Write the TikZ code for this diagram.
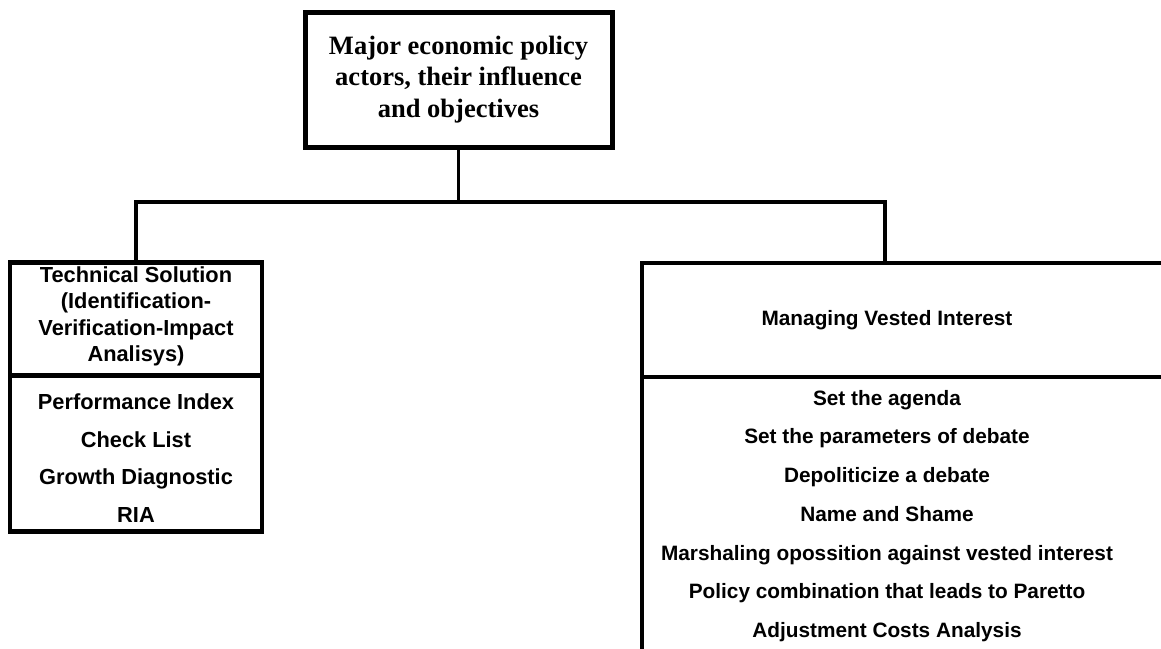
\documentclass[tikz,border=0pt]{standalone}
\usepackage{fontspec}
\setmainfont{Liberation Serif}
\setsansfont{Liberation Sans}
\usepackage{tikz}
\usetikzlibrary{positioning}

\begin{document}
\begin{tikzpicture}
[x=1pt,y=-1pt,
   box/.style={draw,line width=4.5pt,rectangle,inner sep=0pt,outer sep=0pt,align=center},
   conn/.style={line width=4.5pt},
   lbl/.style={font=\sffamily\bfseries\fontsize{21.8}{26.5}\selectfont,align=center}]
\useasboundingbox (0,0) rectangle (1161,648);
\clip (0,0) rectangle (1161,648);
% root
\node[box,line width=5pt,minimum width=307,minimum height=135,
      font=\rmfamily\bfseries\fontsize{26.5}{31.8}\selectfont] (actors) at (458.5,79.5)
      {Major economic policy\\actors, their influence\\and objectives};
% left branch
\node[box,minimum width=252,minimum height=113] (tech) at (136,319) {};
\node[lbl] (techtxt) at (136,316.5)
      {Technical Solution\\(Identification-\\Verification-Impact\\Analisys)};
\node[box,below=0pt of tech,minimum width=252,minimum height=156] (techlist) {};
\node[lbl,font=\sffamily\bfseries\fontsize{21.8}{37.7}\selectfont] (techitems) at (136,458)
      {Performance Index\\Check List\\Growth Diagnostic\\RIA};
% right branch
\node[box,minimum width=538,minimum height=114] (vested) at (911,320) {};
\node[lbl,font=\sffamily\bfseries\fontsize{20.8}{26.5}\selectfont] (vestedtxt) at (887,320)
      {Managing Vested Interest};
\node[box,below=0pt of vested,minimum width=538,minimum height=300] (vestedbox) {};
\node[lbl,font=\sffamily\bfseries\fontsize{20.8}{38.7}\selectfont] (vestedlist) at (887,516)
      {Set the agenda\\Set the parameters of debate\\Depoliticize a debate\\Name and Shame\\
       Marshaling opossition against vested interest\\Policy combination that leads to Paretto\\
       Adjustment Costs Analysis};
% connectors
\coordinate (split) at (actors.south |- 0,202);
\coordinate (rjoin) at (885,263);
\draw[line width=3.5pt] (actors.south) -- (split);
\draw[conn] (tech.north) |- (split) -| (rjoin);
\end{tikzpicture}
\end{document}
